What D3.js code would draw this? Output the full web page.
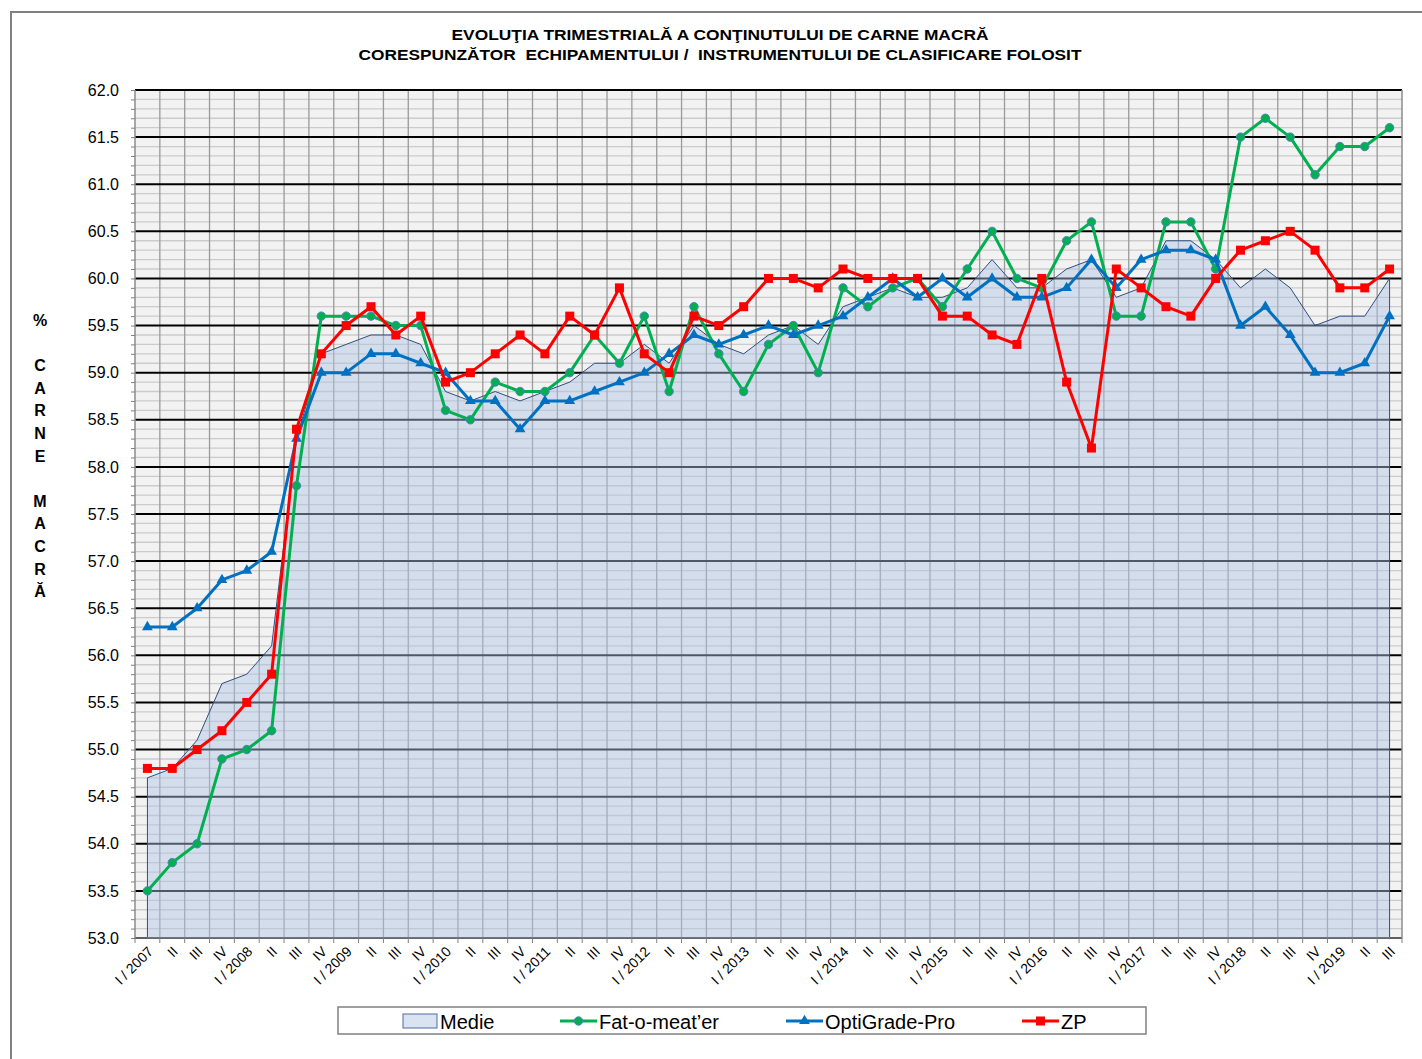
<!DOCTYPE html>
<html>
<head>
<meta charset="utf-8">
<script src="https://cdnjs.cloudflare.com/ajax/libs/d3/7.8.5/d3.min.js"></script>
<style>
  body { margin: 0; background: #fff; }
  svg { display: block; font-family: "Liberation Sans", Arial, sans-serif; }
</style>
</head>
<body>
<div id="chart"></div>
<script>
// quarter labels, I/2007 .. III/2019
var quarters = [
  "I / 2007","II","III","IV",
  "I / 2008","II","III","IV",
  "I / 2009","II","III","IV",
  "I / 2010","II","III","IV",
  "I / 2011","II","III","IV",
  "I / 2012","II","III","IV",
  "I / 2013","II","III","IV",
  "I / 2014","II","III","IV",
  "I / 2015","II","III","IV",
  "I / 2016","II","III","IV",
  "I / 2017","II","III","IV",
  "I / 2018","II","III","IV",
  "I / 2019","II","III"
];

var medie = [54.7,54.8,55.1,55.7,55.8,56.1,58.3,59.2,59.3,59.4,59.4,59.3,
             58.8,58.7,58.8,58.7,58.8,58.9,59.1,59.1,59.3,59.1,59.5,59.3,
             59.2,59.4,59.5,59.3,59.7,59.8,59.9,59.8,59.8,59.9,60.2,59.9,
             59.9,60.1,60.2,59.8,59.9,60.4,60.4,60.2,59.9,60.1,59.9,59.5,
             59.6,59.6,60.0];

var fatomeater = [53.5,53.8,54.0,54.9,55.0,55.2,57.8,59.6,59.6,59.6,59.5,59.5,
                  58.6,58.5,58.9,58.8,58.8,59.0,59.4,59.1,59.6,58.8,59.7,59.2,
                  58.8,59.3,59.5,59.0,59.9,59.7,59.9,60.0,59.7,60.1,60.5,60.0,
                  59.9,60.4,60.6,59.6,59.6,60.6,60.6,60.1,61.5,61.7,61.5,61.1,
                  61.4,61.4,61.6];

var optigrade = [56.3,56.3,56.5,56.8,56.9,57.1,58.3,59.0,59.0,59.2,59.2,59.1,
                 59.0,58.7,58.7,58.4,58.7,58.7,58.8,58.9,59.0,59.2,59.4,59.3,
                 59.4,59.5,59.4,59.5,59.6,59.8,60.0,59.8,60.0,59.8,60.0,59.8,
                 59.8,59.9,60.2,59.9,60.2,60.3,60.3,60.2,59.5,59.7,59.4,59.0,
                 59.0,59.1,59.6];

var zp = [54.8,54.8,55.0,55.2,55.5,55.8,58.4,59.2,59.5,59.7,59.4,59.6,
          58.9,59.0,59.2,59.4,59.2,59.6,59.4,59.9,59.2,59.0,59.6,59.5,
          59.7,60.0,60.0,59.9,60.1,60.0,60.0,60.0,59.6,59.6,59.4,59.3,
          60.0,58.9,58.2,60.1,59.9,59.7,59.6,60.0,60.3,60.4,60.5,60.3,
          59.9,59.9,60.1];

var titleLines = ["EVOLUŢIA TRIMESTRIALĂ A CONŢINUTULUI DE CARNE MACRĂ",
                  "CORESPUNZĂTOR  ECHIPAMENTULUI /  INSTRUMENTULUI DE CLASIFICARE FOLOSIT"];
var yTitle = ["%", "", "C", "A", "R", "N", "E", "", "M", "A", "C", "R", "Ă"];
var yDomain = [53, 62];

var W = 1422, H = 1059;
var margin = {top: 90, right: 20, bottom: 121, left: 135},
    width = 1402 - margin.left,
    height = 938 - margin.top;

var svg = d3.select("#chart").append("svg")
    .attr("width", W)
    .attr("height", H);

// outer frame (top + left edges visible)
svg.append("line").attr("x1", 10).attr("x2", W).attr("y1", 12).attr("y2", 12)
    .attr("stroke", "#808080").attr("stroke-width", 2);
svg.append("line").attr("x1", 11).attr("x2", 11).attr("y1", 12).attr("y2", H)
    .attr("stroke", "#808080").attr("stroke-width", 2);

// title
svg.append("g").selectAll("text")
    .data(titleLines)
  .enter().append("text")
    .attr("x", 720)
    .attr("y", function(d, i) { return 40 + i * 20; })
    .attr("text-anchor", "middle")
    .attr("font-weight", "bold")
    .attr("font-size", "15px")
    .style("white-space", "pre")
    .attr("textLength", function(d, i) { return i == 0 ? 537 : 723; })
    .attr("lengthAdjust", "spacingAndGlyphs")
    .text(function(d) { return d; });

// y title, one letter per row
svg.append("g").selectAll("text")
    .data(yTitle)
  .enter().append("text")
    .attr("x", 40)
    .attr("y", function(d, i) { return 326 + i * 22.6; })
    .attr("text-anchor", "middle")
    .attr("font-weight", "bold")
    .attr("font-size", "16px")
    .text(function(d) { return d; });

var g = svg.append("g")
    .attr("transform", "translate(" + margin.left + "," + margin.top + ")");

var x = d3.scaleBand()
    .domain(d3.range(quarters.length))
    .range([0, width])
    .padding(0);

var y = d3.scaleLinear()
    .domain(yDomain)
    .range([height, 0]);

var cx = function(i) { return x(i) + x.bandwidth() / 2; };

// plot background
g.append("rect")
    .attr("width", width)
    .attr("height", height)
    .attr("fill", "#f2f2f2");

var minor = d3.range(yDomain[0] * 10, yDomain[1] * 10 + 1).map(function(v) { return v / 10; }),
    major = d3.range(yDomain[0], yDomain[1] + 0.01, 0.5);

// minor horizontal grid
g.append("g").selectAll("line")
    .data(minor.filter(function(v) { return Math.round(v * 10) % 5 != 0; }))
  .enter().append("line")
    .attr("x1", 0).attr("x2", width)
    .attr("y1", function(d) { return y(d); })
    .attr("y2", function(d) { return y(d); })
    .attr("stroke", "#cbcbcb")
    .attr("stroke-width", 1.3);

// vertical grid at category boundaries
g.append("g").selectAll("line")
    .data(d3.range(1, quarters.length))
  .enter().append("line")
    .attr("x1", function(d) { return x(d); })
    .attr("x2", function(d) { return x(d); })
    .attr("y1", 0).attr("y2", height)
    .attr("stroke", "#9a9a9a")
    .attr("stroke-width", 1.3);

// major horizontal grid
g.append("g").selectAll("line")
    .data(major)
  .enter().append("line")
    .attr("x1", 0).attr("x2", width)
    .attr("y1", function(d) { return y(d); })
    .attr("y2", function(d) { return y(d); })
    .attr("stroke", "#000")
    .attr("stroke-width", 2);

// Medie area (semi transparent so the grid shows through)
var area = d3.area()
    .x(function(d, i) { return cx(i); })
    .y0(y(yDomain[0]))
    .y1(function(d) { return y(d); });

g.append("path")
    .datum(medie)
    .attr("d", area)
    .attr("fill", "#aec3e3")
    .attr("fill-opacity", 0.45)
    .attr("stroke", "#2f4f80")
    .attr("stroke-width", 1);

// plot frame left/right
g.append("line").attr("x1", 0).attr("x2", 0).attr("y1", 0).attr("y2", height)
    .attr("stroke", "#8c8c8c").attr("stroke-width", 1.5);
g.append("line").attr("x1", width).attr("x2", width).attr("y1", 0).attr("y2", height)
    .attr("stroke", "#8c8c8c").attr("stroke-width", 1.5);

// y axis: minor ticks, then labels at the majors
var yAxis = g.append("g")
    .call(d3.axisLeft(y).tickValues(minor).tickSize(4).tickFormat(""));
yAxis.select(".domain").remove();
yAxis.selectAll(".tick line").attr("stroke", "#808080");

var yLabels = g.append("g")
    .call(d3.axisLeft(y).tickValues(major).tickSize(0).tickPadding(16).tickFormat(d3.format(".1f")));
yLabels.select(".domain").remove();
yLabels.selectAll("text")
    .attr("font-size", "16px")
    .attr("font-family", "Liberation Sans, Arial, sans-serif")
    .attr("fill", "#000");

// x axis: ticks at boundaries
var xAxis = g.append("g")
    .attr("transform", "translate(0," + height + ")");
xAxis.append("line").attr("x1", 0).attr("x2", width)
    .attr("stroke", "#808080").attr("stroke-width", 1.5);
xAxis.selectAll(".xt")
    .data(d3.range(0, quarters.length + 1))
  .enter().append("line")
    .attr("class", "xt")
    .attr("x1", function(d) { return d == quarters.length ? width : x(d); })
    .attr("x2", function(d) { return d == quarters.length ? width : x(d); })
    .attr("y1", 0).attr("y2", 5)
    .attr("stroke", "#808080");
xAxis.selectAll(".xl")
    .data(quarters)
  .enter().append("text")
    .attr("class", "xl")
    .attr("transform", function(d, i) { return "translate(" + (cx(i) + 3) + ",11) rotate(-45)"; })
    .attr("text-anchor", "end")
    .attr("dy", "0.35em")
    .attr("font-size", "14px")
    .text(function(d) { return d; });

// series lines
var series = [
  {name: "Fat-o-meat\u2019er", values: fatomeater, color: "#00b050", marker: "circle"},
  {name: "OptiGrade-Pro", values: optigrade, color: "#0070c0", marker: "triangle"},
  {name: "ZP", values: zp, color: "#ff0000", marker: "square"}
];

var line = d3.line()
    .x(function(d, i) { return cx(i); })
    .y(function(d) { return y(d); });

function drawMarker(sel, s) {
  if (s.marker == "circle") {
    sel.append("circle").attr("r", 4.2)
        .attr("fill", s.color).attr("stroke", "#4f81bd").attr("stroke-width", 1);
  } else if (s.marker == "triangle") {
    sel.append("path").attr("d", d3.symbol().type(d3.symbolTriangle).size(50))
        .attr("fill", s.color);
  } else {
    sel.append("rect").attr("x", -4.5).attr("y", -4.5).attr("width", 9).attr("height", 9)
        .attr("fill", s.color);
  }
}

series.forEach(function(s) {
  g.append("path")
      .datum(s.values)
      .attr("d", line)
      .attr("fill", "none")
      .attr("stroke", s.color)
      .attr("stroke-width", 3)
      .attr("stroke-linejoin", "round");
  g.append("g").selectAll("g")
      .data(s.values)
    .enter().append("g")
      .attr("transform", function(d, i) { return "translate(" + cx(i) + "," + y(d) + ")"; })
      .each(function() { drawMarker(d3.select(this), s); });
});

// legend
var legend = svg.append("g");
legend.append("rect")
    .attr("x", 338).attr("y", 1007).attr("width", 808).attr("height", 27)
    .attr("fill", "#fff").attr("stroke", "#808080").attr("stroke-width", 1.5);

legend.append("rect")
    .attr("x", 403).attr("y", 1014).attr("width", 34).attr("height", 14)
    .attr("fill", "#dae3f0").attr("stroke", "#4a6fa5").attr("stroke-width", 1);
legend.append("text")
    .attr("x", 440).attr("y", 1029)
    .attr("font-size", "20px")
    .text("Medie");

var legX = [560, 786, 1022];
series.forEach(function(s, i) {
  var lg = legend.append("g").attr("transform", "translate(" + legX[i] + ",1021)");
  lg.append("line").attr("x1", 0).attr("x2", 37)
      .attr("stroke", s.color).attr("stroke-width", 3);
  drawMarker(lg.append("g").attr("transform", "translate(18.5,0)"), s);
  lg.append("text")
      .attr("x", 39).attr("y", 8)
      .attr("font-size", "20px")
      .text(s.name);
});
</script>
</body>
</html>
